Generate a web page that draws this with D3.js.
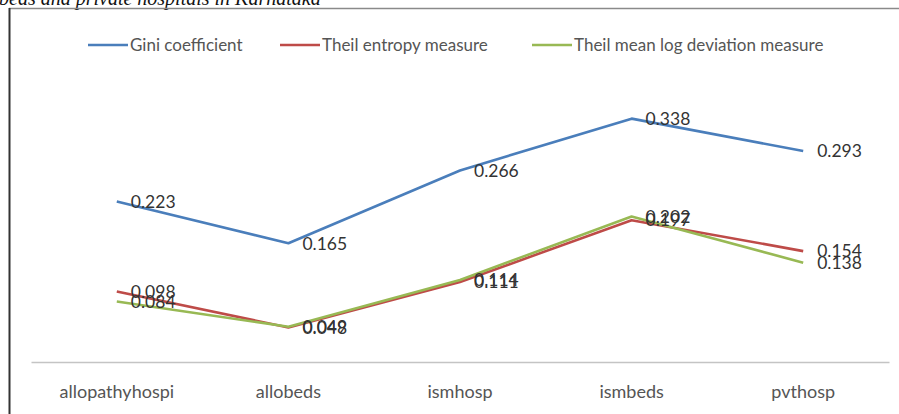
<!DOCTYPE html>
<html>
<head>
<meta charset="utf-8">
<script src="https://cdn.jsdelivr.net/npm/d3@7"></script>
<style>
  html, body { margin: 0; padding: 0; background: #fff; }
  svg { display: block; }
</style>
</head>
<body>
<svg id="chart" width="899" height="414"></svg>
<script>
// Inequality measures for hospitals and beds, by facility type
const categories = ["allopathyhospi", "allobeds", "ismhosp", "ismbeds", "pvthosp"];
const giniValues = [0.223, 0.165, 0.266, 0.338, 0.293];
const theilEntropyValues = [0.098, 0.048, 0.111, 0.197, 0.154];
const theilMldValues = [0.084, 0.049, 0.114, 0.202, 0.138];
const seriesNames = ["Gini coefficient", "Theil entropy measure", "Theil mean log deviation measure"];
const seriesColors = ["#4a7ebb", "#be4b48", "#98b954"];
const yDomain = [0, 0.4];

const series = [giniValues, theilEntropyValues, theilMldValues].map((values, i) => ({
  name: seriesNames[i],
  color: seriesColors[i],
  values: values.map((v, j) => ({ cat: categories[j], v }))
}));

const svg = d3.select("#chart");
const W = 899, H = 414;

// caption line sitting above the chart frame
svg.append("text")
  .attr("x", -1).attr("y", 5)
  .attr("font-family", "Liberation Serif, serif")
  .attr("font-style", "italic")
  .attr("font-size", 20)
  .attr("fill", "#111")
  .text("beds and private hospitals in Karnataka");

// chart frame
svg.append("line").attr("x1", 9).attr("x2", W).attr("y1", 8.5).attr("y2", 8.5)
  .attr("stroke", "#8a8a8a").attr("stroke-width", 1.5);
svg.append("line").attr("x1", 9.5).attr("x2", 9.5).attr("y1", 8).attr("y2", H)
  .attr("stroke", "#333").attr("stroke-width", 2);

const plot = { left: 31, right: 889, top: 74, bottom: 362 };

const x = d3.scaleBand().domain(categories).range([plot.left, plot.right]);
const cx = c => x(c) + x.bandwidth() / 2;
const y = d3.scaleLinear().domain(yDomain).range([plot.bottom, plot.top]);

// category axis
const xAxis = svg.append("g")
  .attr("transform", `translate(0,${plot.bottom})`)
  .call(d3.axisBottom(x).tickSize(0).tickPadding(23));
xAxis.select(".domain").attr("stroke", "#c4c4c4").attr("stroke-width", 1.5);
xAxis.selectAll("text")
  .attr("font-family", "Lato, sans-serif")
  .attr("font-size", 18)
  .attr("fill", "#555");

// series lines
const line = d3.line().x(d => cx(d.cat)).y(d => y(d.v));
svg.append("g").selectAll("path")
  .data(series)
  .join("path")
  .attr("d", s => line(s.values))
  .attr("fill", "none")
  .attr("stroke", s => s.color)
  .attr("stroke-width", 2.6)
  .attr("stroke-linejoin", "round");

// value labels to the right of each point
const labels = svg.append("g")
  .attr("font-family", "Lato, sans-serif")
  .attr("font-size", 17.5)
  .attr("fill", "#333");
series.forEach(s => {
  labels.selectAll(null)
    .data(s.values)
    .join("text")
    .attr("x", d => cx(d.cat) + 14)
    .attr("y", d => y(d.v))
    .attr("dy", "0.36em")
    .text(d => d3.format(".3f")(d.v));
});

// legend
const legendX = [88, 280, 532];
const legendY = 45;
const legend = svg.append("g");
series.forEach((s, i) => {
  const g = legend.append("g").attr("transform", `translate(${legendX[i]},${legendY})`);
  g.append("line").attr("x1", 0).attr("x2", 40).attr("y1", 0).attr("y2", 0)
    .attr("stroke", s.color).attr("stroke-width", 2.6);
  g.append("text").attr("x", 42).attr("y", 0).attr("dy", "0.35em")
    .attr("font-family", "Lato, sans-serif")
    .attr("font-size", 17)
    .attr("fill", "#555")
    .text(s.name);
});
</script>
</body>
</html>
